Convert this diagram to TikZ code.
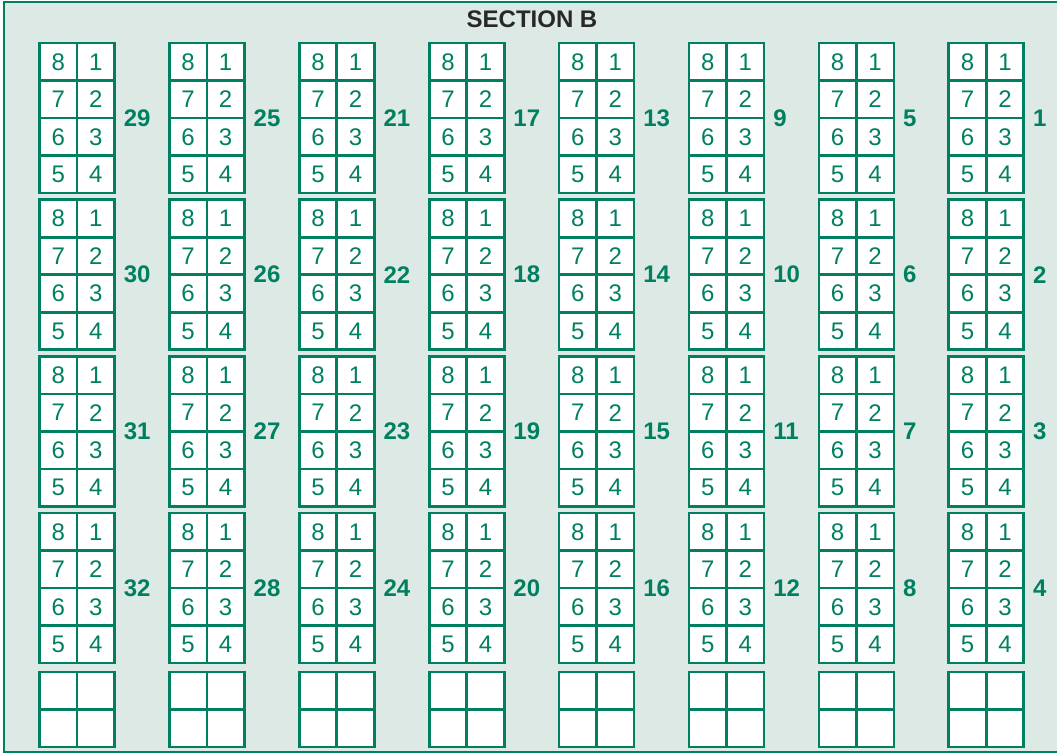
\documentclass[tikz,border=0pt]{standalone}
\usepackage{fontspec}
\setmainfont{Liberation Sans}
\definecolor{seatgreen}{RGB}{0,128,96}
\definecolor{bgmint}{RGB}{220,233,228}
\definecolor{titlegray}{RGB}{40,40,40}
\begin{document}
\begin{tikzpicture}[x=0.75pt,y=-0.75pt,
  cell/.style={draw=seatgreen, line width=2pt, fill=white, minimum width=28.125pt,
    minimum height=28.125pt, inner sep=0pt, text=seatgreen, font=\fontsize{18}{18}\selectfont},
  rowlabel/.style={anchor=west, inner sep=0pt, text=seatgreen, font=\fontsize{18}{18}\selectfont\bfseries},
  frame/.style={draw=seatgreen, fill=bgmint, line width=1.5pt},
  title/.style={text=titlegray, font=\fontsize{18}{18}\selectfont\bfseries, inner sep=0pt}]
\useasboundingbox (0,0) rectangle (1057,755);
\fill[white] (0,0) rectangle (1057,755);
\begin{scope}
\clip (0,0) rectangle (1057,755);
\draw[frame] (4,2) rectangle (1064,752);
\end{scope}
\node[title] (ttl) at (532,19) {SECTION B};
\foreach \c in {0,...,7}{
  \pgfmathsetmacro\bx{39.5+129.9*\c}
  \foreach \r in {0,...,3}{
    \pgfmathsetmacro\by{43+156.7*\r}
    \pgfmathtruncatemacro\lab{4*(7-\c)+\r+1}
    \foreach \i/\l/\rr in {0/8/1,1/7/2,2/6/3,3/5/4}{
      \node[cell] (s\c-\r-L\i) at (\bx+18.75, \by+18.75+37.5*\i) {\l};
      \node[cell] (s\c-\r-R\i) at (\bx+56.25, \by+18.75+37.5*\i) {\rr};
    }
    \node[rowlabel] (n\lab) at (\bx+84, \by+75) {\lab};
  }
  \foreach \i in {0,1}{
    \node[cell] (e\c-L\i) at (\bx+18.75, 672+18.75+37.5*\i) {};
    \node[cell] (e\c-R\i) at (\bx+56.25, 672+18.75+37.5*\i) {};
  }
}
\end{tikzpicture}
\end{document}
